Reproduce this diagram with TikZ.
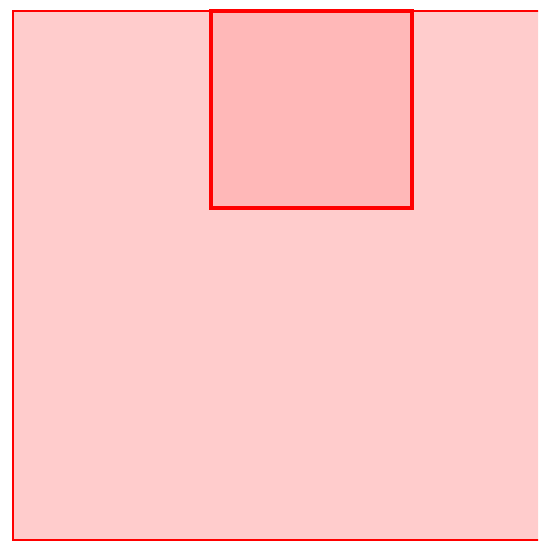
\documentclass[tikz,border=0pt]{standalone}
\begin{document}
\begin{tikzpicture}[x=1pt,y=-1pt,
  outerbox/.style={draw=red,fill=red!20,line width=2pt},
  innerbox/.style={draw=red,fill=red!28,line width=4pt}]
\useasboundingbox (0,0) rectangle (538,546);
\clip (0,0) rectangle (538,546);
\fill[white] (0,0) rectangle (538,546);
\draw[outerbox] (13,11) rectangle (560,540);
\draw[innerbox] (211,11) rectangle (412,208);
\end{tikzpicture}
\end{document}
